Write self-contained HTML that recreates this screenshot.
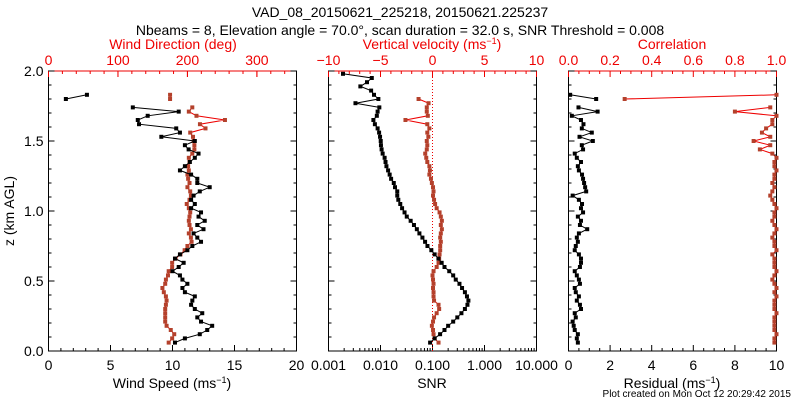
<!DOCTYPE html>
<html><head><meta charset="utf-8"><style>
body{margin:0;background:#fff;}
svg{display:block;font-family:"Liberation Sans",sans-serif;}
</style></head><body>
<svg id="c" width="800" height="400" viewBox="0 0 800 400" xmlns="http://www.w3.org/2000/svg">
<text x="400" y="17" text-anchor="middle" font-size="14">VAD_08_20150621_225218, 20150621.225237</text>
<text x="400" y="35" text-anchor="middle" font-size="14">Nbeams = 8, Elevation angle = 70.0°, scan duration = 32.0 s, SNR Threshold = 0.008</text>
<text x="400" y="397" font-size="10" font-weight="bold" x2="0"></text>
</svg>
<script>
const heights=[0.06,0.09,0.12,0.15,0.18,0.21,0.24,0.27,0.30,0.33,0.36,0.39,0.42,0.45,0.48,0.51,0.54,0.57,0.60,0.63,0.66,0.69,0.72,0.75,0.78,0.81,0.84,0.87,0.90,0.93,0.96,0.99,1.02,1.05,1.08,1.11,1.14,1.17,1.20,1.23,1.26,1.29,1.32,1.35,1.38,1.41,1.44,1.47,1.50,1.53,1.56,1.59,1.62,1.65,1.68,1.71,1.74,1.77,1.80,1.83,1.86,1.89,1.92,1.95,1.98];
const windSpeed=[10.2,11.0,12.2,12.8,13.2,12.3,12.0,12.4,11.8,11.5,11.6,11.8,11.0,10.8,11.2,10.8,10.6,10.0,10.5,10.9,10.2,10.6,11.2,11.6,12.3,12.0,11.7,12.5,12.0,12.6,12.1,12.3,11.5,11.8,11.5,11.7,12.2,13.0,12.0,12.0,11.5,10.6,11.0,11.4,11.8,12.1,11.3,11.0,11.8,9.1,10.6,10.3,7.3,7.2,8.0,10.5,6.8,null,1.4,3.1,null,null,null,null,null];
const windDir=[173,178,181,176,170,168,168,168,168,169,170,169,166,164,168,169,172,173,178,178,183,190,196,200,206,205,202,205,203,202,203,204,202,199,203,205,204,200,203,201,200,202,201,203,202,207,210,210,209,208,204,226,218,254,213,202,207,null,175,175,null,null,null,null,null];
const snr=[0.09,0.11,0.14,0.17,0.2,0.25,0.3,0.36,0.42,0.47,0.49,0.46,0.42,0.37,0.33,0.28,0.25,0.21,0.17,0.15,0.13,0.11,0.095,0.08,0.072,0.064,0.056,0.05,0.044,0.038,0.032,0.029,0.026,0.024,0.022,0.021,0.021,0.019,0.018,0.016,0.015,0.014,0.013,0.0125,0.012,0.011,0.0105,0.0102,0.0101,0.0098,0.0094,0.0088,0.0078,0.0073,0.0085,0.0088,0.0095,0.0033,0.0091,0.0075,0.0066,0.0041,0.0055,0.0068,0.0019];
const vertVel=[0.58,0.2,0.1,0.05,-0.06,0.05,0.15,0.4,0.64,0.58,0.15,0.1,0.1,0.05,0.1,0.05,0,0.1,0.4,0.58,0.64,0.68,0.74,0.74,0.8,0.74,0.8,0.9,0.8,0.9,0.8,0.68,0.4,0.25,0.15,0.05,0.1,0.05,-0.06,-0.15,-0.3,-0.25,-0.3,-0.5,-0.6,-0.7,-0.55,-0.5,-0.55,-0.4,-0.5,-0.3,-0.5,-2.6,-0.45,-0.55,-0.55,-0.38,-1.34,null,null,null,null,null,null];
const residual=[0.45,0.4,0.45,0.3,0.25,0.2,0.35,0.3,0.6,0.55,0.4,0.5,0.35,0.3,0.55,0.5,0.4,0.3,0.55,0.6,0.6,0.5,0.3,0.35,0.45,0.4,0.5,0.9,0.55,0.6,0.45,0.7,0.6,0.65,0.5,0.2,0.85,0.8,0.75,0.7,0.65,0.5,0.45,0.6,0.4,0.3,0.7,0.64,1.17,0.53,1.12,0.64,0.72,0.6,0.16,1.4,0.48,null,1.33,0.08,null,null,null,null,null];
const correlation=[0.99,0.99,1.0,0.99,0.99,0.99,0.99,1.0,0.99,0.99,0.99,1.0,0.99,1.0,0.99,0.98,0.99,1.0,0.99,0.99,0.99,0.98,1.0,0.99,0.99,0.98,0.99,1.0,0.99,0.98,0.99,0.99,1.0,0.99,0.98,0.97,0.98,0.99,0.98,0.99,0.99,1.0,0.99,0.99,1.0,0.98,0.92,0.97,0.89,0.97,0.93,0.95,0.98,0.98,1.0,0.8,0.97,null,0.27,1.0,null,null,null,null,null];
const yTicks=["0.0","0.5","1.0","1.5","2.0"];
const speedTicks=["0","5","10","15","20"];
const dirTicks=["0","100","200","300"];
const snrTicks=["0.001","0.010","0.100","1.000","10.000"];
const vvTicks=["\u221210","\u22125","0","5","10"];
const resTicks=["0","2","4","6","8","10"];
const corTicks=["0.0","0.2","0.4","0.6","0.8","1.0"];

const svg=document.getElementById('c');
const NS='http://www.w3.org/2000/svg';
const RED='#ee0000', BROWN='#b4412c';
const Y0=351, Y1=71;
const yS=z=>Y0-(z/2)*(Y0-Y1);
function mk(tag,attrs,parent){const e=document.createElementNS(NS,tag);for(const k in attrs)e.setAttribute(k,attrs[k]);(parent||svg).appendChild(e);return e;}
function lin(a,b,x0,x1){return v=>x0+(v-a)/(b-a)*(x1-x0);}
function logs(a,b,x0,x1){return v=>x0+(Math.log10(v)-Math.log10(a))/(Math.log10(b)-Math.log10(a))*(x1-x0);}
function txt(x,y,s,size,color,anchor,name){const t=mk('text',{x:x,y:y,'font-size':size,fill:color,'text-anchor':anchor||'middle'});t.textContent=s;


return t;}
function tick(x1,y1,x2,y2,color){const l=mk('line',{x1:x1,y1:y1,x2:x2,y2:y2,stroke:color,'stroke-width':1});

}

function yAxis(L,R,labels){
  for(let v=0;v<=2.0001;v+=0.1){const y=yS(v);const maj=Math.abs(v*2-Math.round(v*2))<1e-6;const len=maj?6:3;
    tick(L,y,L+len,y,'#000');tick(R,y,R-len,y,'#000');}
  if(labels){yTicks.forEach(s=>{txt(L-5,yS(parseFloat(s))+5,s,14,'#000','end','y-tick-label');});}
}
function series(vals,xs,lineCol,markCol,name){
  const g=mk('g',{});
  
  
  let d='',pen=false;
  vals.forEach((v,i)=>{if(v===null){pen=false;return;}const x=xs(v),y=yS(heights[i]);d+=(pen?'L':'M')+x.toFixed(1)+' '+y.toFixed(1);pen=true;});
  mk('path',{d:d,fill:'none',stroke:lineCol,'stroke-width':1},g);
  vals.forEach((v,i)=>{if(v===null)return;const r=mk('rect',{x:xs(v)-2,y:yS(heights[i])-2,width:4,height:4,fill:markCol},g);
    
    });
}
function box(L,R,name){const r=mk('rect',{x:L,y:Y1,width:R-L,height:Y0-Y1,fill:'none',stroke:'#000','stroke-width':1});


mk('line',{x1:L,y1:Y1,x2:R,y2:Y1,stroke:RED,'stroke-width':1});}

// Panel 1
const p1L=48.5,p1R=296.5;
box(p1L,p1R,'wind-panel-frame');
const xSpd=lin(0,20,p1L,p1R), xDir=lin(0,357,p1L,p1R);
for(let v=0;v<=20;v++){const x=xSpd(v);tick(x,Y0,x,Y0-(v%5===0?6:3),'#000');}
for(let v=0;v<=357;v+=20){const x=xDir(v);tick(x,Y1,x,Y1+(v%100===0?6:3),RED);}
[0,100,200,300].forEach(v=>tick(xDir(v),Y1,xDir(v),Y1+6,RED));
yAxis(p1L,p1R,true);
speedTicks.forEach(s=>txt(xSpd(+s),370,s,14,'#000','middle','speed-tick-label'));
dirTicks.forEach(s=>txt(xDir(+s),65,s,14,RED,'middle','direction-tick-label'));
txt(173,49,'Wind Direction (deg)',14,RED,'middle','direction-axis-title');
const st=txt(172,388,'Wind Speed (ms',14,'#000','middle','speed-axis-title');
st.innerHTML='Wind Speed (ms<tspan dy="-5" font-size="9">\u22121</tspan><tspan dy="5">)</tspan>';
const yt=txt(0,0,'z (km AGL)',14,'#000','middle','y-axis-title');yt.setAttribute('transform','translate(14,211) rotate(-90)');
series(windDir,xDir,RED,BROWN,'wind-direction-series');
series(windSpeed,xSpd,'#000','#000','wind-speed-series');

// Panel 2
const p2L=328.5,p2R=536.5;
box(p2L,p2R,'snr-panel-frame');
const xSnr=logs(0.001,10,p2L,p2R), xVV=lin(-10,10,p2L,p2R);
for(let e=-3;e<1;e++){for(let m=1;m<10;m++){const x=xSnr(m*Math.pow(10,e));tick(x,Y0,x,Y0-(m===1?6:3),'#000');}}
for(let v=-10;v<=10;v++){const x=xVV(v);tick(x,Y1,x,Y1+(v%5===0?6:3),RED);}
yAxis(p2L,p2R,false);
snrTicks.forEach(s=>txt(xSnr(+s),370,s,14,'#000','middle','snr-tick-label'));
vvTicks.forEach((s,i)=>txt(xVV(-10+5*i),65,s,14,RED,'middle','vv-tick-label'));
const vt=txt(432,49,'',14,RED,'middle','vv-axis-title');
vt.innerHTML='Vertical velocity (ms<tspan dy="-5" font-size="9">\u22121</tspan><tspan dy="5">)</tspan>';
txt(432,388,'SNR',14,'#000','middle','snr-axis-title');
const zl=mk('line',{x1:xVV(0),y1:Y1,x2:xVV(0),y2:Y0,stroke:RED,'stroke-width':1,'stroke-dasharray':'1,2'});


series(vertVel,xVV,RED,BROWN,'vertical-velocity-series');
series(snr,xSnr,'#000','#000','snr-series');

// Panel 3
const p3L=568.5,p3R=776.5;
box(p3L,p3R,'residual-panel-frame');
const xRes=lin(0,10,p3L,p3R), xCor=lin(0,1,p3L,p3R);
for(let v=0;v<=20;v++){const x=xRes(v*0.5);tick(x,Y0,x,Y0-(v%4===0?6:3),'#000');}
for(let v=0;v<=20;v++){const x=xCor(v*0.05);tick(x,Y1,x,Y1+(v%4===0?6:3),RED);}
yAxis(p3L,p3R,false);
resTicks.forEach(s=>txt(xRes(+s),370,s,14,'#000','middle','residual-tick-label'));
corTicks.forEach(s=>txt(xCor(+s),65,s,14,RED,'middle','correlation-tick-label'));
txt(672,49,'Correlation',14,RED,'middle','correlation-axis-title');
const rt=txt(672,388,'',14,'#000','middle','residual-axis-title');
rt.innerHTML='Residual (ms<tspan dy="-5" font-size="9">\u22121</tspan><tspan dy="5">)</tspan>';
series(correlation,xCor,RED,BROWN,'correlation-series');
series(residual,xRes,'#000','#000','residual-series');

txt(791,397,'Plot created on Mon Oct 12 20:29:42 2015',10,'#000','end','plot-created-note');
</script>
</body></html>
